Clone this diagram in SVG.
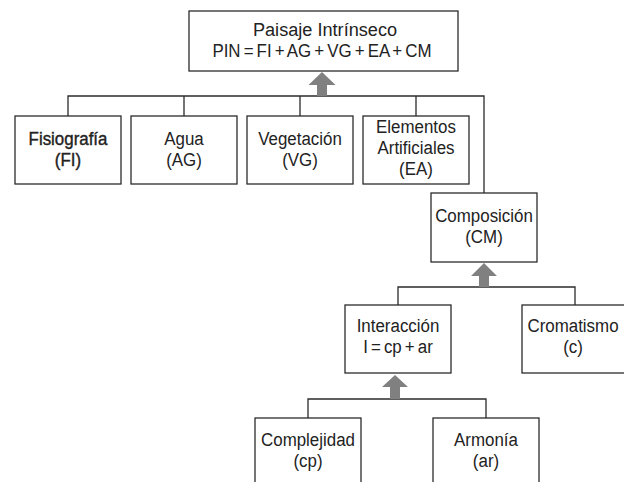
<svg xmlns="http://www.w3.org/2000/svg" width="624" height="482" viewBox="0 0 624 482">
  <style>
    .box { fill: #ffffff; stroke: #2b2b2b; stroke-width: 1.3; }
    .wire { fill: none; stroke: #2b2b2b; stroke-width: 1.3; }
    .arrow { fill: #808080; stroke: none; }
    text { font-family: "Liberation Sans", Arial, sans-serif; font-size: 19px; fill: #222222; text-anchor: middle; }
    .bold { stroke: #222222; stroke-width: 0.4; }
    .eq { word-spacing: -1.8px; }
  </style>
  <rect width="624" height="482" fill="#ffffff"/>

  <g id="connectors">
    <path class="wire" d="M68,116 V96 H484 V193 M184,96 V116 M300,96 V116 M416,96 V116"/>
    <path class="arrow" d="M322,72 L335.5,85 L327,85 L327,96 L317,96 L317,85 L308.5,85 Z"/>
    <path class="wire" d="M398,305 V287 H575 V305"/>
    <path class="arrow" d="M484,263 L497,276 L489,276 L489,287 L479,287 L479,276 L471,276 Z"/>
    <path class="wire" d="M308,418 V399 H486 V418"/>
    <path class="arrow" d="M395,375 L408,387 L400,387 L400,399 L390,399 L390,387 L382,387 Z"/>
  </g>

  <g id="pin">
    <rect class="box" x="189" y="11" width="269" height="60"/>
    <text transform="translate(325 36) scale(0.955 1)">Paisaje Intrínseco</text>
    <text class="eq" transform="translate(322 57) scale(0.89 1)">PIN = FI + AG + VG + EA + CM</text>
  </g>

  <g id="fi">
    <rect class="box" x="15" y="116" width="106" height="68"/>
    <text class="bold" transform="translate(68 145) scale(0.89 1)">Fisiografía</text>
    <text class="bold" transform="translate(68 166) scale(0.89 1)">(FI)</text>
  </g>

  <g id="ag">
    <rect class="box" x="131" y="116" width="106" height="68"/>
    <text transform="translate(184 145) scale(0.89 1)">Agua</text>
    <text transform="translate(184 166) scale(0.89 1)">(AG)</text>
  </g>

  <g id="vg">
    <rect class="box" x="247" y="116" width="106" height="68"/>
    <text transform="translate(300 145) scale(0.89 1)">Vegetación</text>
    <text transform="translate(300 166) scale(0.89 1)">(VG)</text>
  </g>

  <g id="ea">
    <rect class="box" x="363" y="116" width="106" height="68"/>
    <text transform="translate(416 133) scale(0.89 1)">Elementos</text>
    <text transform="translate(416 154) scale(0.89 1)">Artificiales</text>
    <text transform="translate(416 175) scale(0.89 1)">(EA)</text>
  </g>

  <g id="cm">
    <rect class="box" x="431" y="193" width="106" height="69"/>
    <text transform="translate(484 222) scale(0.89 1)">Composición</text>
    <text transform="translate(484 243) scale(0.89 1)">(CM)</text>
  </g>

  <g id="interaccion">
    <rect class="box" x="345" y="305" width="106" height="68"/>
    <text transform="translate(398 332) scale(0.89 1)">Interacción</text>
    <text class="eq" transform="translate(398 353) scale(0.89 1)">I = cp + ar</text>
  </g>

  <g id="cromatismo">
    <rect class="box" x="522" y="305" width="106" height="68"/>
    <text transform="translate(573 332) scale(0.89 1)">Cromatismo</text>
    <text transform="translate(573 353) scale(0.89 1)">(c)</text>
  </g>

  <g id="complejidad">
    <rect class="box" x="255" y="418" width="106" height="80"/>
    <text transform="translate(308 446) scale(0.89 1)">Complejidad</text>
    <text transform="translate(308 467) scale(0.89 1)">(cp)</text>
  </g>

  <g id="armonia">
    <rect class="box" x="433" y="418" width="106" height="80"/>
    <text transform="translate(486 446) scale(0.89 1)">Armonía</text>
    <text transform="translate(486 467) scale(0.89 1)">(ar)</text>
  </g>
</svg>
